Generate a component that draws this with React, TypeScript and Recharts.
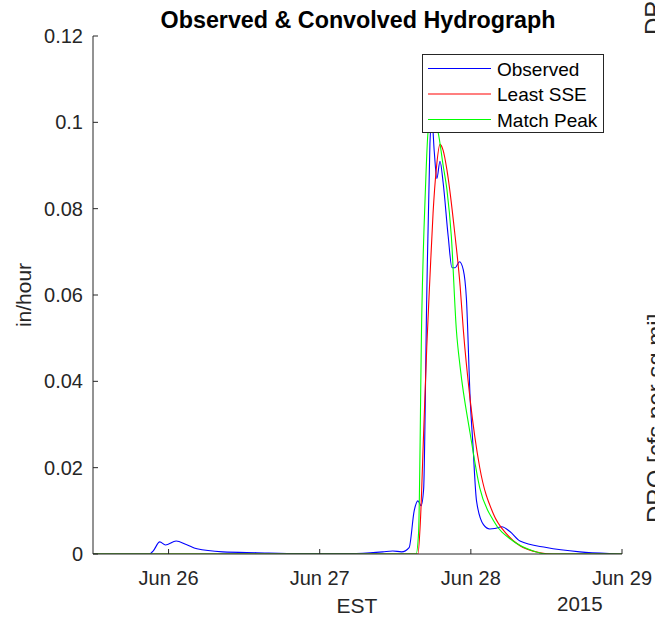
import React from 'react'
import { Line, LineChart, XAxis, YAxis } from 'recharts'

// hours counted from Jun 25 12:00 EST
const obsTime = [0, 9.0, 9.6, 10.6, 11.5, 13.2, 14.8, 16.5, 20.6, 26, 33, 40, 44, 46, 47.6, 49, 50.2, 51.0, 51.6, 52.1, 52.5, 53.0, 53.5, 53.8, 54.2, 54.6, 55.1, 55.6, 56.4, 57.0, 57.5, 58.2, 58.8, 59.3, 59.9, 60.3, 60.9, 62.0, 63.0, 63.8, 64.9, 66.2, 67.8, 72.0, 77.3, 82, 84]
const obsFlow = [0, 0, 0.0008, 0.0028, 0.0021, 0.003, 0.0022, 0.0012, 0.0005, 0.0003, 0.0001, 0.0001, 0.0003, 0.0005, 0.0007, 0.0005, 0.0015, 0.01, 0.0123, 0.0112, 0.015, 0.06, 0.095, 0.101, 0.093, 0.087, 0.091, 0.086, 0.0736, 0.0663, 0.0663, 0.0677, 0.0658, 0.059, 0.0356, 0.026, 0.0123, 0.0068, 0.0058, 0.0059, 0.0063, 0.0052, 0.003, 0.0015, 0.0005, 0.0001, 0]

const sseTime = [0, 51.6, 52.0, 52.5, 53.0, 53.5, 54.0, 54.5, 55.1, 55.6, 56.2, 57.5, 58.3, 58.8, 59.9, 61.4, 63.6, 65.7, 67.8, 71.0, 73, 84]
const sseFlow = [0, 0, 0.008, 0.028, 0.048, 0.064, 0.079, 0.089, 0.0949, 0.0935, 0.089, 0.0736, 0.062, 0.052, 0.0356, 0.0201, 0.0092, 0.0046, 0.0019, 0.0003, 0, 0]

const peakTime = [0, 51.3, 51.7, 52.2, 52.8, 53.2, 53.7, 54.2, 54.8, 55.6, 56.2, 56.9, 57.7, 58.3, 59.9, 61.4, 63.6, 66.7, 69.9, 72, 84]
const peakFlow = [0, 0, 0.005, 0.055, 0.085, 0.0977, 0.101, 0.1, 0.0977, 0.09, 0.0844, 0.0736, 0.0519, 0.0433, 0.0278, 0.0154, 0.0077, 0.003, 0.0007, 0, 0]

const xTicks = [12, 36, 60, 84]
const xTickLabels = ['Jun 26', 'Jun 27', 'Jun 28', 'Jun 29']
const yTicks = [0, 0.02, 0.04, 0.06, 0.08, 0.1, 0.12]
const yTickLabels = ['0', '0.02', '0.04', '0.06', '0.08', '0.1', '0.12']

const seriesNames = ['Observed', 'Least SSE', 'Match Peak']
const seriesColors = ['#0000ff', '#ff0000', '#00ff00']

const toPoints = (ts: number[], vs: number[]) => ts.map((t, i) => ({ t, v: vs[i] }))
const seriesData = [toPoints(obsTime, obsFlow), toPoints(sseTime, sseFlow), toPoints(peakTime, peakFlow)]

const ink = '#262626'
const font = 'Liberation Sans, Arial, Helvetica, sans-serif'

const BottomTick = ({ x, y, payload }: any) => (
  <g>
    <line x1={x} y1={y} x2={x} y2={y - 5} stroke={ink} />
    <text x={x} y={y + 31} textAnchor="middle" fontSize={20} fill={ink} fontFamily={font}>
      {xTickLabels[xTicks.indexOf(payload.value)]}
    </text>
  </g>
)

const TopTick = ({ x, y }: any) => <line x1={x} y1={y} x2={x} y2={y + 5} stroke={ink} />

const LeftTick = ({ x, y, payload }: any) => (
  <g>
    <line x1={x} y1={y} x2={x + 5} y2={y} stroke={ink} />
    <text x={x - 10} y={y + 7} textAnchor="end" fontSize={20} fill={ink} fontFamily={font}>
      {yTickLabels[yTicks.indexOf(payload.value)]}
    </text>
  </g>
)

const RightTick = ({ x, y }: any) => <line x1={x} y1={y} x2={x - 5} y2={y} stroke={ink} />

export default function App() {
  return (
    <div style={{ position: 'absolute', left: 0, top: 0, width: 655, height: 622, background: '#fff', overflow: 'hidden' }}>
      <LineChart width={655} height={622} margin={{ top: 36, right: 33, left: 0, bottom: 38 }}>
        <XAxis
          xAxisId="bottom"
          dataKey="t"
          type="number"
          domain={[0, 84]}
          ticks={xTicks}
          height={30}
          tickSize={0}
          tickMargin={0}
          tickLine={false}
          axisLine={{ stroke: ink }}
          tick={<BottomTick />}
          allowDataOverflow
        />
        <XAxis
          xAxisId="top"
          orientation="top"
          dataKey="t"
          type="number"
          domain={[0, 84]}
          ticks={xTicks}
          height={0}
          tickSize={0}
          tickMargin={0}
          tickLine={false}
          axisLine={{ stroke: ink }}
          tick={<TopTick />}
          allowDataOverflow
        />
        <YAxis
          yAxisId="left"
          type="number"
          domain={[0, 0.12]}
          ticks={yTicks}
          width={93}
          tickSize={0}
          tickMargin={0}
          tickLine={false}
          axisLine={{ stroke: ink }}
          tick={<LeftTick />}
          allowDataOverflow
        />
        <YAxis
          yAxisId="right"
          orientation="right"
          type="number"
          domain={[0, 0.12]}
          ticks={yTicks}
          width={0}
          tickSize={0}
          tickMargin={0}
          tickLine={false}
          axisLine={{ stroke: ink }}
          tick={<RightTick />}
          allowDataOverflow
        />
        {seriesData.map((d, i) => (
          <Line
            key={seriesNames[i]}
            data={d}
            dataKey="v"
            xAxisId="bottom"
            yAxisId="left"
            type="monotone"
            stroke={seriesColors[i]}
            strokeWidth={1.1}
            dot={false}
            isAnimationActive={false}
          />
        ))}
      </LineChart>

      <svg
        width={655}
        height={622}
        style={{ position: 'absolute', left: 0, top: 0, pointerEvents: 'none' }}
        fontFamily={font}
        fill={ink}
      >
        <text x={358} y={28} textAnchor="middle" fontSize={23.3} fontWeight="bold" fill="#000">
          Observed &amp; Convolved Hydrograph
        </text>
        <text x={357} y={613} textAnchor="middle" fontSize={21}>EST</text>
        <text x={557} y={611} fontSize={20.5}>2015</text>
        <text x={31} y={295} textAnchor="middle" fontSize={21} transform="rotate(-90 31 295)">in/hour</text>
        <text x={664} y={523} fontSize={24} transform="rotate(-90 664 523)">DRO [cfs per sq mi]</text>
        <text x={662} y={35} fontSize={24} transform="rotate(-90 662 35)">DRO [cfs per sq mi]</text>
      </svg>

      <div
        style={{
          position: 'absolute',
          left: 422,
          top: 54,
          width: 182,
          height: 79,
          boxSizing: 'border-box',
          border: `1px solid ${ink}`,
          background: '#fff',
        }}
      >
        <svg width={180} height={77} fontFamily={font}>
          {seriesNames.map((name, i) => (
            <g key={name}>
              <line x1={5} x2={68} y1={13.5 + i * 25.5} y2={13.5 + i * 25.5} stroke={seriesColors[i]} strokeWidth={1.1} />
              <text x={74} y={13.5 + i * 25.5 + 7} fontSize={19} fill="#000">{name}</text>
            </g>
          ))}
        </svg>
      </div>
    </div>
  )
}
